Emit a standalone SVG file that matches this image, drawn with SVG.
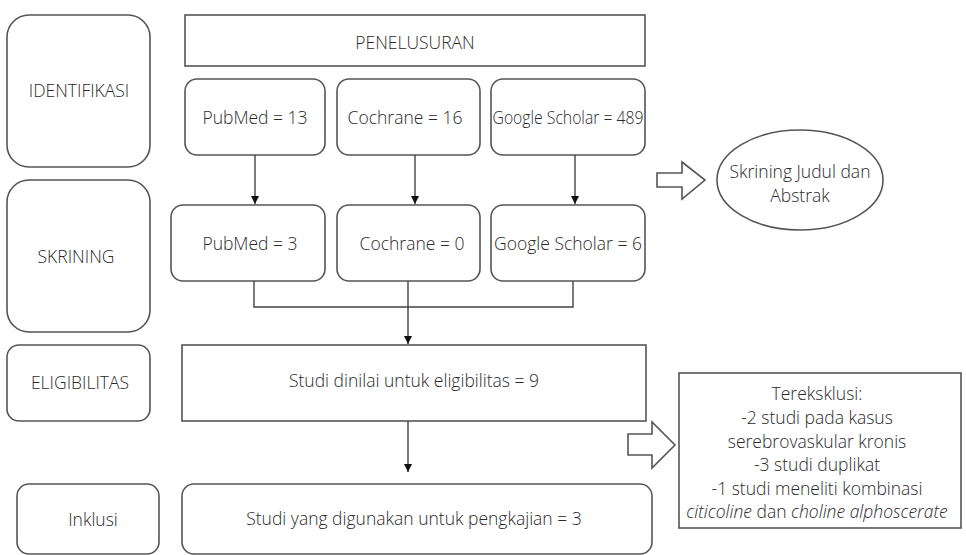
<svg xmlns="http://www.w3.org/2000/svg" width="966" height="555" viewBox="0 0 966 555">
<style>
.b{fill:#fff;stroke:#555;stroke-width:1.6}
.t{font-family:"Open Sans","Liberation Sans",sans-serif;font-weight:300;font-size:17.5px;fill:#2a2a2a;text-anchor:middle;dominant-baseline:central}
.c{fill:none;stroke:#444;stroke-width:1.4}
</style>
<defs>
<marker id="ah" viewBox="0 0 10 10" refX="10" refY="5" markerWidth="8" markerHeight="8" markerUnits="userSpaceOnUse" orient="auto">
<path d="M0,0 L10,5 L0,10 z" fill="#111"/>
</marker>
</defs>
<rect width="966" height="555" fill="#fff"/>
<g id="identifikasi"><rect class="b" x="7" y="15" width="143" height="152" rx="22"/><text class="t" x="79" y="90">IDENTIFIKASI</text></g>
<g id="skrining"><rect class="b" x="7" y="180" width="143" height="152" rx="22"/><text class="t" x="76" y="256">SKRINING</text></g>
<g id="eligibilitas"><rect class="b" x="7" y="345" width="143" height="76" rx="12"/><text class="t" x="80" y="382">ELIGIBILITAS</text></g>
<g id="inklusi"><rect class="b" x="17" y="484" width="142" height="70" rx="12"/><text class="t" x="93" y="519">Inklusi</text></g>
<g id="penelusuran"><rect class="b" x="185" y="15" width="460" height="51"/><text class="t" x="415" y="42">PENELUSURAN</text></g>
<g id="pubmed13"><rect class="b" x="185" y="79" width="140" height="76" rx="12"/><text class="t" x="255" y="117">PubMed = 13</text></g>
<g id="cochrane16"><rect class="b" x="337" y="79" width="143" height="76" rx="12"/><text class="t" x="405" y="117">Cochrane = 16</text></g>
<g id="scholar489"><rect class="b" x="491" y="79" width="154" height="76" rx="12"/><text class="t" x="568" y="117" textLength="151" lengthAdjust="spacingAndGlyphs">Google Scholar = 489</text></g>
<g id="pubmed3"><rect class="b" x="171" y="205" width="154" height="76" rx="12"/><text class="t" x="250" y="243">PubMed = 3</text></g>
<g id="cochrane0"><rect class="b" x="337" y="205" width="143" height="76" rx="12"/><text class="t" x="412" y="243">Cochrane = 0</text></g>
<g id="scholar6"><rect class="b" x="491" y="205" width="154" height="76" rx="12"/><text class="t" x="568" y="243">Google Scholar = 6</text></g>
<g id="skrining-judul"><ellipse class="b" cx="800" cy="180" rx="83" ry="50"/><text class="t" x="800" y="171">Skrining Judul dan</text><text class="t" x="800" y="195">Abstrak</text></g>
<g id="studi-dinilai"><rect class="b" x="182" y="345" width="464" height="76"/><text class="t" x="414" y="380">Studi dinilai untuk eligibilitas = 9</text></g>
<g id="studi-digunakan"><rect class="b" x="182" y="484" width="470" height="70" rx="12"/><text class="t" x="414" y="518">Studi yang digunakan untuk pengkajian = 3</text></g>
<g id="tereksklusi"><rect class="b" x="679" y="373" width="282" height="155"/>
<text class="t" x="817" y="393">Tereksklusi:</text>
<text class="t" x="817" y="417">-2 studi pada kasus</text>
<text class="t" x="817" y="441">serebrovaskular kronis</text>
<text class="t" x="817" y="464">-3 studi duplikat</text>
<text class="t" x="817" y="488">-1 studi meneliti kombinasi</text>
<text class="t" x="817" y="511"><tspan font-style="italic">citicoline</tspan> dan <tspan font-style="italic">choline alphoscerate</tspan></text>
</g>
<g id="connectors">
<path class="c" d="M255,155 V204" marker-end="url(#ah)"/>
<path class="c" d="M415,155 V204" marker-end="url(#ah)"/>
<path class="c" d="M575,155 V204" marker-end="url(#ah)"/>
<path class="c" d="M254,281 V307 H573 V281"/>
<path class="c" d="M408,281 V344" marker-end="url(#ah)"/>
<path class="c" d="M408,421 V472" marker-end="url(#ah)"/>
<path class="b" d="M657,173 H682 V162 L705,180 L682,199 V187 H657 Z"/>
<path class="b" d="M628,434 H652 V422 L675,445 L652,468 V455 H628 Z"/>
</g>
</svg>
